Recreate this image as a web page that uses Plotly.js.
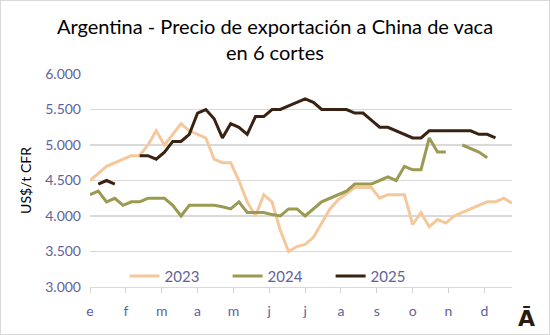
<!DOCTYPE html>
<html><head><meta charset="utf-8">
<script src="https://cdn.plot.ly/plotly-3.0.1.min.js"></script>
<style>
html,body{margin:0;padding:0;background:#fff;}
#wrap{position:relative;width:550px;height:335px;}
#chart{width:550px;height:335px;}
#frame{position:absolute;left:0;top:0;width:548px;height:333px;border:1px solid #d9d9d9;pointer-events:none;}
</style></head>
<body><div id="wrap"><div id="chart"></div><div id="frame"></div></div>
<script>
// weekly index 0..51
const weeks = Array.from({length:52},(_,i)=>i);
const monthLabels = ["e","f","m","a","m","j","j","a","s","o","n","d"];
const monthTickWeeks = [0,4.33,8.67,13,17.33,21.67,26,30.33,34.67,39,43.33,47.67];
const yTickVals = [3000,3500,4000,4500,5000,5500,6000];
const yTickText = ["3.000","3.500","4.000","4.500","5.000","5.500","6.000"];

const s2023 = [4500,4600,4700,4750,4800,4850,4850,5000,5200,5000,5150,5300,5200,5150,5100,4800,4750,4750,4500,4200,4000,4300,4200,3800,3500,3570,3600,3700,3900,4100,4230,4320,4400,4400,4400,4250,4300,4300,4300,3880,4050,3850,3950,3900,4000,4050,4100,4150,4200,4200,4250,4180];
const s2024 = [4300,4350,4200,4250,4150,4200,4200,4250,4250,4250,4150,4000,4150,4150,4150,4150,4130,4100,4200,4050,4050,4050,4020,4000,4100,4100,4000,4100,4200,4250,4300,4350,4450,4450,4450,4500,4550,4500,4700,4650,4650,5100,4900,4900,null,5000,4950,4900,4820,null,null,null];
const s2025 = [null,4450,4500,4450,null,null,4850,4850,4800,4900,5050,5050,5150,5450,5500,5370,5100,5300,5250,5150,5400,5400,5500,5500,5550,5600,5650,5600,5500,5500,5500,5500,5450,5450,5350,5250,5250,5200,5150,5100,5100,5200,5200,5200,5200,5200,5200,5150,5150,5100,null,null];

const seriesNames = ["2023","2024","2025"];
const seriesData = [s2023,s2024,s2025];
const colors = ["#f5c89c","#9a9a52","#3a2212"];

const traces = seriesData.map((d,i)=>({
  x: weeks, y: d, name: seriesNames[i], type:"scatter", mode:"lines",
  line:{color:colors[i], width:3}, connectgaps:false, hoverinfo:"skip"
}));

const tickColor = "#62629a";
const layout = {
  width:550, height:335,
  margin:{l:90, r:38, t:74, b:48},
  paper_bgcolor:"#fff", plot_bgcolor:"#fff",
  font:{family:"Lato, sans-serif", color:tickColor},
  title:{text:"Argentina - Precio de exportación a China de vaca<br>en 6 cortes",
    font:{family:"Lato, sans-serif", size:20, color:"#000"}, x:0.5, xanchor:"center", y:0.90, yanchor:"top"},
  xaxis:{range:[0,51], tickvals:monthTickWeeks, ticktext:monthLabels, ticks:"outside", ticklen:5, tickcolor:"#d0d0d0",
    tickwidth:1, showline:true, linecolor:"#d9d9d9", linewidth:1.3, showgrid:false, zeroline:false,
    tickfont:{size:14, color:tickColor}, ticklabelstandoff:6, fixedrange:true},
  yaxis:{range:[3000,6000], tickvals:yTickVals, ticktext:yTickText, showgrid:true, gridcolor:"#d9d9d9", gridwidth:1.3,
    showline:false, zeroline:false, ticks:"", tickfont:{size:14, color:tickColor}, ticklabelstandoff:8,
    title:{text:"US$/t CFR", font:{size:14, color:"#000"}, standoff:10}, fixedrange:true},
  showlegend:true,
  legend:{orientation:"h", x:0.082, xanchor:"left", y:0.05, yanchor:"middle", bgcolor:"rgba(0,0,0,0)",
    font:{size:15, color:tickColor}, entrywidth:58, entrywidthmode:"pixels", itemwidth:30},
  annotations:[{text:"<b>Ā</b>", xref:"paper", yref:"paper", x:(526-90)/422, y:(287-318)/213, xanchor:"center", yanchor:"middle",
    showarrow:false, font:{family:"DejaVu Sans, sans-serif", size:22, color:"#2a1a10"}}]
};
Plotly.newPlot("chart", traces, layout, {staticPlot:true, displayModeBar:false});
</script></body></html>
